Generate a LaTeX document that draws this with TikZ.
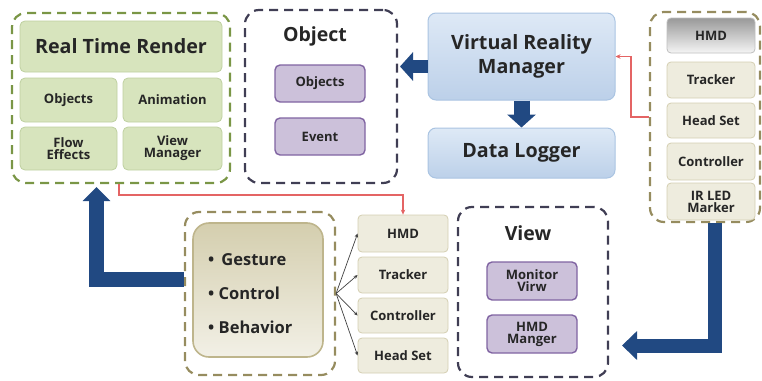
\documentclass[tikz,border=0pt]{standalone}
\usepackage{fontspec}
\setmainfont{Open Sans}
\usetikzlibrary{calc,arrows.meta}
\definecolor{grdash}{RGB}{122,150,70}
\definecolor{grfill}{RGB}{215,228,189}
\definecolor{grline}{RGB}{190,208,160}
\definecolor{pudash}{RGB}{64,62,84}
\definecolor{pufill}{RGB}{204,193,218}
\definecolor{puline}{RGB}{128,100,162}
\definecolor{bltop}{RGB}{222,233,246}
\definecolor{blbot}{RGB}{188,208,233}
\definecolor{blline}{RGB}{170,196,226}
\definecolor{tndash}{RGB}{150,140,95}
\definecolor{tnfill}{RGB}{238,236,222}
\definecolor{tnline}{RGB}{212,206,178}
\definecolor{tntop}{RGB}{212,206,174}
\definecolor{tnbot}{RGB}{242,240,230}
\definecolor{tnbord}{RGB}{190,181,140}
\definecolor{navy}{RGB}{33,73,130}
\definecolor{redl}{RGB}{228,100,100}
\definecolor{txt}{RGB}{38,38,38}
\begin{document}
\begin{tikzpicture}[x=1pt,y=-1pt,
  grp/.style={draw=#1, line width=2.2pt, dash pattern=on 9pt off 6pt, rounded corners=14pt, inner sep=0pt},
  gbox/.style={draw=grline, fill=grfill, line width=0.8pt, rounded corners=5pt, inner sep=0pt, align=center, text=txt},
  pbox/.style={draw=puline, fill=pufill, line width=1.4pt, rounded corners=5pt, inner sep=0pt, align=center, text=txt, minimum width=90pt},
  bbox/.style={draw=blline, top color=bltop, bottom color=blbot, line width=1pt, rounded corners=8pt, inner sep=0pt, align=center, text=txt, minimum width=187pt},
  tbox/.style={draw=tnline, fill=tnfill, line width=0.8pt, rounded corners=4pt, inner sep=0pt, align=center, text=txt},
  ttl/.style={inner sep=0pt, text=txt, font=\bfseries\fontsize{19.5}{22}\selectfont},
  bigt/.style={font=\bfseries\fontsize{19.7}{24}\selectfont},
  small/.style={font=\bfseries\fontsize{13}{14}\selectfont},
  bigarrow/.style={draw=navy, line join=miter},
  redarrow/.style={draw=redl, line width=1.2pt, -{Stealth[length=5pt,width=4.5pt]}},
  fan/.style={draw=black!75, line width=0.7pt, -{Stealth[length=4pt,width=3.5pt]}}
]
\useasboundingbox (0,0) rectangle (762,380);

% Real Time Render group
\node[grp=grdash, minimum width=218pt, minimum height=170pt] (rtrg) at (121,98) {};
\node[gbox, bigt, minimum width=202pt, minimum height=51pt] (rtr) at (121,46.5) {Real Time Render};
\node[gbox, small, minimum width=97pt, minimum height=44pt] (robj) at (68.5,100) {Objects};
\node[gbox, small, minimum width=99pt, minimum height=44pt] (ranim) at (172.5,100) {Animation};
\node[gbox, small, minimum width=97pt, minimum height=43pt] (rflow) at (68.5,148.5) {Flow\\[-2pt]Effects};
\node[gbox, small, minimum width=99pt, minimum height=43pt] (rview) at (172.5,148.5) {View\\[-2pt]Manager};

% Object group
\node[grp=pudash, minimum width=152pt, minimum height=173pt] (objg) at (321,96.5) {};
\node[ttl] (objt) at (315,36) {Object};
\node[pbox, small, minimum height=37pt] (oobj) at (320,83.5) {Objects};
\node[pbox, small, minimum height=37pt] (oevt) at (320,136.5) {Event};

% VR manager and data logger
\node[bbox, bigt, minimum height=87pt] (vrm) at (521.5,56.5) {Virtual Reality\\Manager};
\node[bbox, bigt, minimum height=50pt] (dl) at (521.5,153) {Data Logger};

% Device group (right)
\node[grp=tndash, minimum width=110pt, minimum height=210pt] (dgrp) at (705,117) {};
\node[draw=black!25, top color=black!40, bottom color=black!4, line width=0.8pt, rounded corners=4pt, inner sep=0pt, text=txt, small, minimum width=88pt, minimum height=35pt] (dhmd) at (711,35.5) {HMD};
\node[tbox, small, minimum width=88pt, minimum height=36pt] (dtrk) at (711,80) {Tracker};
\node[tbox, small, minimum width=88pt, minimum height=35pt] (dhs) at (711,120.5) {Head Set};
\node[tbox, small, minimum width=88pt, minimum height=37pt] (dctl) at (711,161.5) {Controller};
\node[tbox, small, minimum width=88pt, minimum height=37pt] (dir) at (711,201.5) {IR LED\\[-2pt]Marker};

% Behavior group
\node[grp=tndash, minimum width=150pt, minimum height=163pt] (bgrp) at (260,293.5) {};
\node[draw=tnbord, top color=tntop, bottom color=tnbot, line width=1.6pt, rounded corners=16pt, inner sep=0pt, minimum width=130pt, minimum height=134pt] (beh) at (258,290) {};
\node[inner sep=0pt, anchor=west, align=left, text=txt, font=\bfseries\fontsize{16.5}{34}\selectfont] (behtxt) at (208,294) {\textbullet\ \,Gesture\\\textbullet\ Control\\\textbullet\ Behavior};

% Device list (middle)
\node[tbox, small, minimum width=90pt, minimum height=37pt] (mhmd) at (403,233.5) {HMD};
\node[tbox, small, minimum width=90pt, minimum height=36pt] (mtrk) at (403,275) {Tracker};
\node[tbox, small, minimum width=90pt, minimum height=35pt] (mctl) at (403,315.5) {Controller};
\node[tbox, small, minimum width=90pt, minimum height=35pt] (mhs) at (403,355.5) {Head Set};

% View group
\node[grp=pudash, minimum width=150pt, minimum height=170pt] (viewg) at (533,292) {};
\node[ttl] (viewt) at (528,233) {View};
\node[pbox, small, minimum height=38pt] (vmon) at (532,281) {Monitor\\[-2pt]Virw};
\node[pbox, small, minimum height=38pt] (vhmd) at (532,334) {HMD\\[-2pt]Manger};

% Block arrows
\coordinate (otip) at (400,66.5);
\draw[bigarrow, line width=13pt, -{Triangle[width=28pt,length=13pt]}] ($(vrm.west)+(0,10)$) -- (otip);
\draw[bigarrow, line width=16pt, -{Triangle[width=28pt,length=13pt]}] (vrm.south) -- (dl.north);
\coordinate (vtip) at (622,345.5);
\draw[bigarrow, line width=14pt, -{Triangle[width=28pt,length=15pt]}] (dgrp.south -| 714.5,0) -- (714.5,345.5) -- (vtip);
\coordinate (rtip) at (96.5,187);
\draw[bigarrow, line width=15pt, -{Triangle[width=27pt,length=14pt]}] (bgrp.west |- 0,279) -- (96.5,279) -- (rtip);

% Red connectors
\draw[redarrow] (dgrp.west) -- ++(-18,0) |- (vrm.east);
\draw[redarrow] (rtrg.south -| 119,0) -- (119,195) -| (mhmd.north);

% Fan connectors
\draw[fan] (bgrp.east) -- (mhmd.west);
\draw[fan] (bgrp.east) -- (mtrk.west);
\draw[fan] (bgrp.east) -- (mctl.west);
\draw[fan] (bgrp.east) -- (mhs.west);
\end{tikzpicture}
\end{document}
